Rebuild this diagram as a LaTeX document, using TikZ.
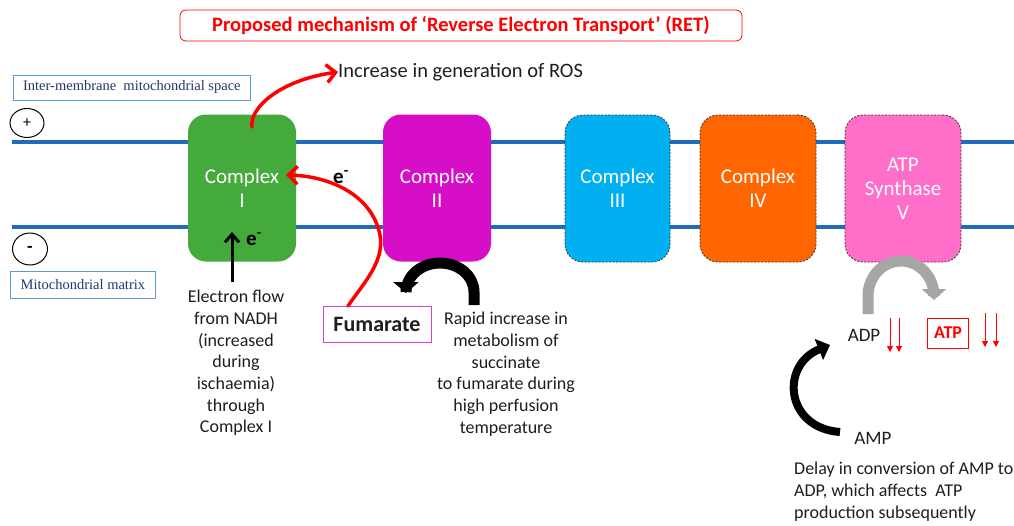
\documentclass[tikz,border=0pt]{standalone}
\usepackage{fontspec}
\setmainfont{Carlito}
\newfontfamily\seriffont{Liberation Serif}
\usetikzlibrary{arrows.meta,shapes.geometric}
\definecolor{membraneblue}{RGB}{31,108,190}
\definecolor{labelblue}{RGB}{31,56,110}
\definecolor{labelframe}{RGB}{91,155,213}
\definecolor{cgreen}{RGB}{68,170,60}
\definecolor{cmagenta}{RGB}{214,14,200}
\definecolor{ccyan}{RGB}{0,176,240}
\definecolor{corange}{RGB}{255,102,0}
\definecolor{cpink}{RGB}{255,110,200}
\definecolor{tred}{RGB}{255,0,0}
\definecolor{arcgray}{RGB}{166,166,166}
\definecolor{txt}{RGB}{30,30,30}
\tikzset{
  membrane/.style={draw=membraneblue, line width=4pt},
  cbox/.style={rounded corners=18pt, minimum width=#1, minimum height=147pt, text=white, align=center, inner sep=0pt,
     font=\fontsize{21}{24}\selectfont},
  dashbox/.style={draw=black!80, dashed, dash pattern=on 2pt off 1.5pt, line width=0.8pt},
  sidelabel/.style={draw=labelframe, line width=0.8pt, text=labelblue, font=\seriffont\fontsize{14.5}{16}\selectfont, inner xsep=6pt, inner ysep=4pt, anchor=west},
  bodytext/.style={text=txt, align=center, font=\fontsize{18}{21.7}\selectfont, inner sep=0pt},
  redarrow/.style={draw=tred, line width=3.5pt, -{Straight Barb[length=9pt,width=18pt,line width=3.5pt]}, line cap=round},
  elabel/.style={font=\bfseries\fontsize{21}{24}\selectfont, inner sep=0pt},
  downarr/.style={draw=tred, line width=1pt, -{Triangle[length=6pt,width=6pt]}},
}
\begin{document}
\begin{tikzpicture}[x=1pt,y=-1pt]
\useasboundingbox (0,0) rectangle (1014,525);
% title
\node[draw=tred, rounded corners=6pt, line width=0.8pt, minimum width=562pt, minimum height=31pt, text=tred,
  font=\bfseries\fontsize{20.5}{22}\selectfont] (title) at (461,25.5) {Proposed mechanism of ‘Reverse Electron Transport’ (RET)};
% membranes
\coordinate (mtl) at (12,142); \coordinate (mtr) at (1014,142);
\coordinate (mbl) at (12,227); \coordinate (mbr) at (1014,227);
\draw[membrane] (mtl) -- (mtr);
\draw[membrane] (mbl) -- (mbr);
% side labels
\node[sidelabel, minimum height=25pt, minimum width=237pt] (ims) at (13,87.5) {Inter-membrane\ \ mitochondrial space};
\node[sidelabel, minimum height=27pt, minimum width=145pt] (mm) at (10,284.5) {Mitochondrial matrix};
\node[draw, ellipse, minimum width=34pt, minimum height=29pt, inner sep=0pt, line width=1pt, font=\fontsize{16}{16}\selectfont] (plus) at (27,123) {+};
\node[draw, ellipse, minimum width=35pt, minimum height=32pt, inner sep=0pt, line width=1pt, font=\bfseries\fontsize{18}{18}\selectfont] (minus) at (30,249) {-};
% complexes
\node[cbox=108pt, fill=cgreen] (c1) at (242,188) {Complex\\I};
\node[cbox=108pt, fill=cmagenta] (c2) at (437,188) {Complex\\II};
\node[cbox=105pt, fill=ccyan, dashbox] (c3) at (617.5,188.5) {Complex\\III};
\node[cbox=116pt, fill=corange, dashbox] (c4) at (758,188.5) {Complex\\IV};
\node[cbox=116pt, fill=cpink, dashbox] (c5) at (903,188.5) {ATP\\Synthase\\V};
% ROS
\node[bodytext, anchor=west, font=\fontsize{20.5}{24}\selectfont] (ros) at (338,72) {Increase in generation of ROS};
\coordinate (c1top) at (252,127);
\draw[redarrow] (c1top) .. controls (249,108) and (280,80) .. (ros.west);
% e- labels
\node[elabel] (e1) at (341,177) {e\textsuperscript{-}};
\node[elabel] (e2) at (254,239) {e\textsuperscript{-}};
% electron flow
\node[bodytext, anchor=north] (eflow) at (236,290) {Electron flow\\from NADH\\(increased\\during\\ischaemia)\\through\\Complex I};
\coordinate (eup) at (232,232);
\draw[line width=3pt, -{Straight Barb[length=8pt,width=14pt,line width=3pt]}] (232,282) -- (eup);
% fumarate
\node[draw=cmagenta!80, line width=1pt, minimum width=108pt, minimum height=36pt, inner sep=0pt, font=\bfseries\fontsize{22}{24}\selectfont, text=txt] (fum) at (377,324) {Fumarate};
\coordinate (ctext) at (286,175);
\draw[redarrow] (348,306) .. controls (362,285) and (385,262) .. (380,235) .. controls (372,195) and (330,176) .. (ctext);
% succinate arrow
\draw[line width=11pt, -{Triangle[length=11pt,width=25pt]}] (474,305) -- (474,292) arc[start angle=0, end angle=180, x radius=34pt, y radius=29pt] -- (406,293);
\node[bodytext, anchor=north] (rapid) at (506,312) {Rapid increase in\\metabolism of\\succinate\\to fumarate during\\high perfusion\\temperature};
% ATP synthase part
\node[bodytext, font=\fontsize{19}{22}\selectfont] (adp) at (864,335) {ADP};
\node[draw=tred, line width=1pt, minimum width=41pt, minimum height=30pt, inner sep=0pt, text=tred, font=\bfseries\fontsize{18}{18}\selectfont] (atp) at (948,333) {ATP};
\draw[line width=11pt, draw=arcgray, -{Triangle[length=11pt,width=24pt]}] (868,314) -- (868,296) arc[start angle=180, end angle=0, x radius=33pt, y radius=35pt] -- (934,300);
\draw[downarr] (890,318) -- (890,352);
\draw[downarr] (899,318) -- (899,352);
\draw[downarr] (985,313) -- (985,347);
\draw[downarr] (996,313) -- (996,347);
\node[bodytext, font=\fontsize{19}{22}\selectfont] (amp) at (873,438) {AMP};
\draw[line width=8pt, -{Triangle[length=12pt,width=22pt]}] (840,432) .. controls (785,428) and (780,365) .. (830,345);
\node[bodytext, anchor=north west, align=left] (delay) at (794,462) {Delay in conversion of AMP to\\ADP, which affects\ \ ATP\\production subsequently};
\end{tikzpicture}
\end{document}
